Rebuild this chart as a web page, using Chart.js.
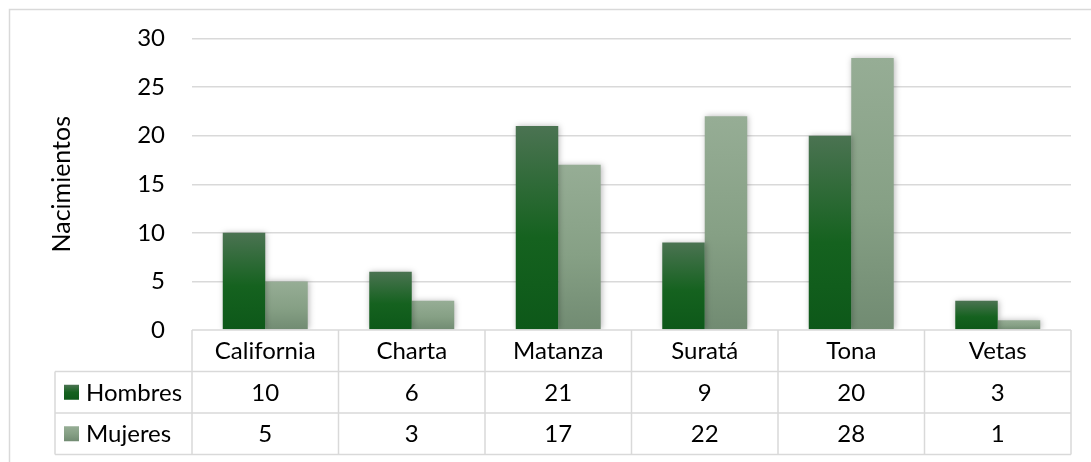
<!DOCTYPE html>
<html>
<head>
<meta charset="utf-8">
<script src="https://cdn.jsdelivr.net/npm/chart.js@4/dist/chart.umd.min.js"></script>
<style>
html,body{margin:0;padding:0;background:#fff}
#wrap{width:1091px;height:462px;position:relative}
</style>
</head>
<body>
<div id="wrap"><canvas id="nacimientos"></canvas></div>
<script>
// data
let categories = ["California", "Charta", "Matanza", "Suratá", "Tona", "Vetas"];
let hombres = [10, 6, 21, 9, 20, 3];
let mujeres = [5, 3, 17, 22, 28, 1];
let y_ticks = [0, 5, 10, 15, 20, 25, 30];
let series_names = ["Hombres", "Mujeres"];

const FONT = "Lato";
const GRID = "#d9d9d9";
const hombres_stops = ["#4b7352", "#15621f", "#0d5819"];
const mujeres_stops = ["#96ad95", "#86a085", "#718b72"];

function bar_gradient(ctx, stops){
    let chart = ctx.chart;
    if(!chart.chartArea || ctx.type !== "data") return stops[1];
    let y = chart.scales.y;
    let top = y.getPixelForValue(ctx.raw);
    let bottom = y.getPixelForValue(0);
    if(bottom - top < 1) return stops[1];
    let g = chart.ctx.createLinearGradient(0, top, 0, bottom);
    g.addColorStop(0, stops[0]);
    g.addColorStop(0.55, stops[1]);
    g.addColorStop(1, stops[2]);
    return g;
}

// outer frame of the chart
const frame_plugin = {
    id: "frame",
    beforeDraw(chart){
        let c = chart.ctx;
        c.save();
        c.fillStyle = "#fff";
        c.fillRect(0, 0, chart.width, chart.height);
        c.strokeStyle = GRID;
        c.lineWidth = 1.5;
        c.beginPath();
        c.moveTo(9.5, chart.height + 2);
        c.lineTo(9.5, 9.5);
        c.lineTo(chart.width + 2, 9.5);
        c.stroke();
        c.restore();
    }
};

// soft shadow on the bars
const shadow_plugin = {
    id: "barShadow",
    beforeDatasetsDraw(chart){
        let c = chart.ctx;
        c.save();
        c.shadowColor = "rgba(0,0,0,0.28)";
        c.shadowBlur = 6;
        c.shadowOffsetX = 1;
        c.shadowOffsetY = 0;
    },
    afterDatasetsDraw(chart){
        chart.ctx.restore();
    }
};

// data table under the plot, like the excel one
const table_plugin = {
    id: "dataTable",
    afterDraw(chart){
        let c = chart.ctx;
        let x = chart.scales.x;
        let area = chart.chartArea;
        let n = categories.length;
        let col = (x.right - x.left) / n;
        let row = 41.5;
        let top = area.bottom;
        let legend_left = 55;
        let rows_y = [top, top + row, top + row * 2, top + row * 3];
        let series = [hombres, mujeres];
        let keys = [hombres_stops, mujeres_stops];

        c.save();
        c.strokeStyle = GRID;
        c.lineWidth = 1.5;
        c.beginPath();
        c.moveTo(x.left, rows_y[0]);
        c.lineTo(x.right, rows_y[0]);
        for(let r = 1; r < 4; r++){
            c.moveTo(legend_left, rows_y[r]);
            c.lineTo(x.right, rows_y[r]);
        }
        c.moveTo(legend_left, rows_y[1]);
        c.lineTo(legend_left, rows_y[3]);
        for(let i = 0; i <= n; i++){
            let px = x.left + col * i;
            c.moveTo(px, rows_y[0]);
            c.lineTo(px, rows_y[3]);
        }
        c.stroke();

        c.fillStyle = "#000";
        c.font = "24px " + FONT;
        c.textAlign = "center";
        c.textBaseline = "middle";
        categories.forEach((cat, i)=>{
            let cx = x.getPixelForValue(i);
            c.fillText(cat, cx, (rows_y[0] + rows_y[1]) / 2 + 1);
            series.forEach((vals, s)=>{
                c.fillText(String(vals[i]), cx, (rows_y[s + 1] + rows_y[s + 2]) / 2 + 1);
            });
        });

        c.textAlign = "left";
        series_names.forEach((name, s)=>{
            let cy = (rows_y[s + 1] + rows_y[s + 2]) / 2;
            let g = c.createLinearGradient(0, cy - 7.5, 0, cy + 7.5);
            g.addColorStop(0, keys[s][0]);
            g.addColorStop(0.5, keys[s][1]);
            g.addColorStop(1, keys[s][2]);
            c.fillStyle = g;
            c.fillRect(64, cy - 7.5, 15, 15);
            c.fillStyle = "#000";
            c.fillText(name, 86, cy + 1);
        });
        c.restore();
    }
};

let chart = new Chart(document.querySelector("#nacimientos"), {
    type: "bar",
    data: {
        labels: categories,
        datasets: [
            {
                label: series_names[0],
                data: hombres,
                backgroundColor: (ctx)=>bar_gradient(ctx, hombres_stops),
                categoryPercentage: 0.58,
                barPercentage: 1
            },
            {
                label: series_names[1],
                data: mujeres,
                backgroundColor: (ctx)=>bar_gradient(ctx, mujeres_stops),
                categoryPercentage: 0.58,
                barPercentage: 1
            }
        ]
    },
    options: {
        responsive: true,
        maintainAspectRatio: false,
        animation: false,
        devicePixelRatio: 1,
        layout: {
            padding: {top: 38.5, right: 20, bottom: 132, left: 0}
        },
        plugins: {
            legend: {display: false},
            tooltip: {enabled: false}
        },
        scales: {
            x: {
                display: false
            },
            y: {
                min: y_ticks[0],
                max: y_ticks[y_ticks.length - 1],
                afterFit(scale){
                    scale.width = 192;
                    scale.paddingTop = 0;
                    scale.paddingBottom = 0;
                },
                afterBuildTicks(scale){
                    scale.ticks = y_ticks.map((v)=>({value: v}));
                },
                border: {display: false},
                grid: {
                    color: (ctx)=> ctx.tick && ctx.tick.value === 0 ? "rgba(0,0,0,0)" : GRID,
                    lineWidth: 1.5,
                    drawTicks: false
                },
                ticks: {
                    color: "#000",
                    padding: 27,
                    font: {family: FONT, size: 24}
                },
                title: {
                    display: true,
                    text: "Nacimientos",
                    color: "#000",
                    font: {family: FONT, size: 25},
                    padding: {top: 47, bottom: 0}
                }
            }
        }
    },
    plugins: [frame_plugin, shadow_plugin, table_plugin]
});
</script>
</body>
</html>
